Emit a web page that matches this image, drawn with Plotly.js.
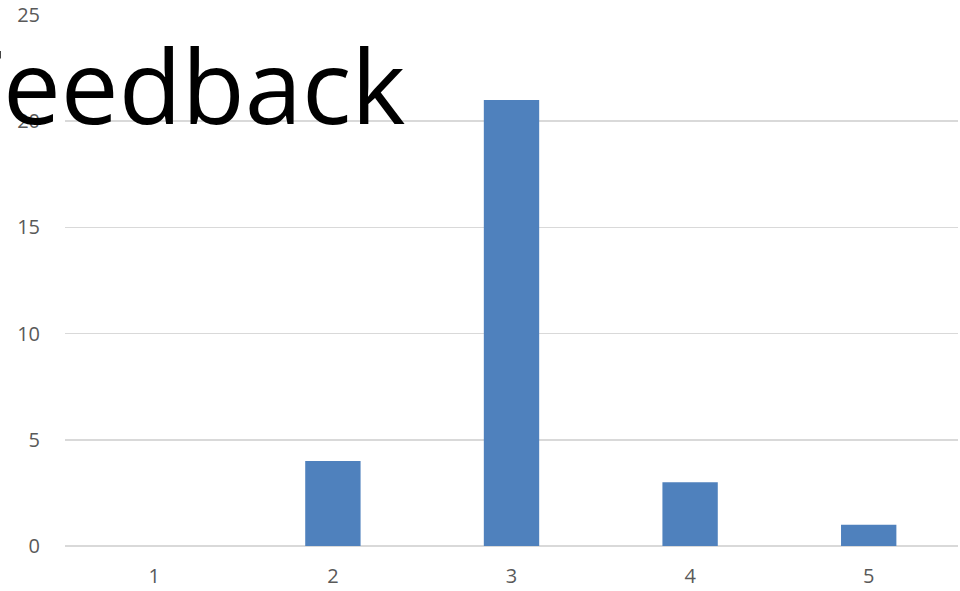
<!DOCTYPE html>
<html>
<head>
<meta charset="utf-8">
<script src="https://cdn.plot.ly/plotly-3.0.1.min.js"></script>
<style>
  html, body { margin: 0; padding: 0; background: #fff; }
  #chart { width: 960px; height: 591px; }
</style>
</head>
<body>
<div id="chart"></div>
<script>
// Feedback scores: number of responses per rating
const ratings = ['1', '2', '3', '4', '5'];
const counts = [0, 4, 21, 3, 1];
const yTicks = [0, 5, 10, 15, 20, 25];

const trace = {
  type: 'bar',
  x: ratings,
  y: counts,
  width: 0.31,
  marker: { color: '#4F81BD', line: { width: 0 } },
  hoverinfo: 'x+y'
};

const layout = {
  width: 960,
  height: 591,
  paper_bgcolor: '#ffffff',
  plot_bgcolor: '#ffffff',
  margin: { l: 65, r: 2, t: 15, b: 45 },
  showlegend: false,
  font: { family: 'Open Sans, Noto Sans, sans-serif', color: '#595959', size: 20 },
  title: {
    text: 'Feedback',
    font: { family: 'Open Sans, Noto Sans, sans-serif', size: 103, color: '#000000' },
    xref: 'container', yref: 'container',
    x: 0.185, xanchor: 'center',
    y: 0.851, yanchor: 'middle'
  },
  xaxis: {
    type: 'category',
    range: [-0.5, 4.5],
    showgrid: false,
    zeroline: false,
    showline: false,
    ticks: 'outside', ticklen: 12, tickcolor: 'rgba(0,0,0,0)',
    tickfont: { size: 20, color: '#595959' },
    fixedrange: true
  },
  yaxis: {
    range: [0, 25],
    tickvals: yTicks,
    ticktext: yTicks.map(String),
    showgrid: true,
    gridcolor: '#D9D9D9',
    gridwidth: 1.5,
    zeroline: true,
    zerolinecolor: '#D9D9D9',
    zerolinewidth: 2,
    showline: false,
    ticks: 'outside', ticklen: 20, tickcolor: 'rgba(0,0,0,0)',
    tickfont: { size: 20, color: '#595959' },
    fixedrange: true
  }
};

Plotly.newPlot('chart', [trace], layout, { displayModeBar: false, staticPlot: true });
</script>
</body>
</html>
